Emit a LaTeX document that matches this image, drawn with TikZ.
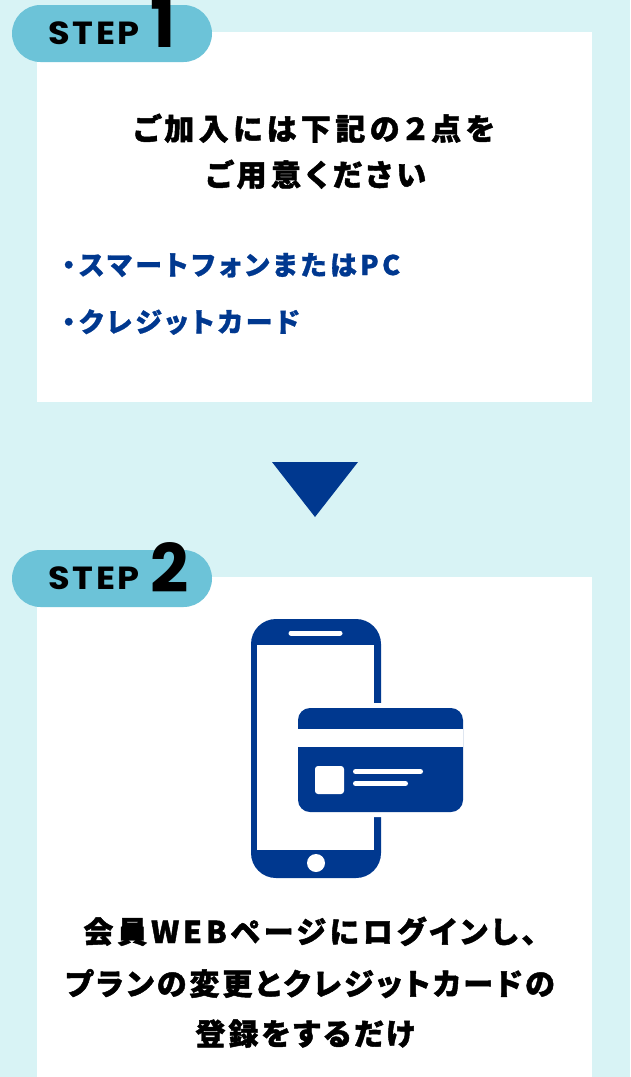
\documentclass[tikz,border=0pt]{standalone}
\usepackage{fontspec}
\usepackage{graphicx}
\newfontfamily\jpt{Noto Sans CJK JP}[RawFeature=+palt, LetterSpace=15, FakeBold=1.5]
\newfontfamily\jpb{Noto Sans CJK JP}[RawFeature=+palt, LetterSpace=10, FakeBold=1.5]
\newfontfamily\jpw{Noto Sans CJK JP}[RawFeature=+palt, LetterSpace=13, FakeBold=1.5]
\newfontfamily\jpi{Noto Sans CJK JP}[RawFeature=+palt, LetterSpace=13, FakeBold=1]
\newfontfamily\stepfont{Poppins}[LetterSpace=8]
\newfontfamily\numfont{Poppins}
\usetikzlibrary{shapes.misc}
\definecolor{bgc}{HTML}{D8F3F5}
\definecolor{badgec}{HTML}{6CC3D8}
\definecolor{navy}{HTML}{00388F}
\begin{document}
\begin{tikzpicture}[x=1pt,y=-1pt,
  panel/.style={rectangle, fill=white, inner sep=0pt, outer sep=0pt},
  badge/.style={rounded rectangle, fill=badgec, inner sep=0pt, outer sep=0pt, minimum width=200pt, minimum height=57pt},
  txt/.style={inner sep=0pt, outer sep=0pt, anchor=base},
  steplbl/.style={inner sep=0pt, outer sep=0pt, anchor=base west, font=\stepfont\bfseries\fontsize{32}{32}\selectfont},
  steplnum/.style={inner sep=0pt, outer sep=0pt, anchor=base west, font=\numfont\bfseries\fontsize{67}{67}\selectfont},
  headtxt/.style={txt, font=\jpt\bfseries\fontsize{30}{30}\selectfont, text=black},
  bodytxt/.style={txt, font=\jpb\bfseries\fontsize{30}{30}\selectfont, text=black},
  bodywide/.style={txt, font=\jpw\bfseries\fontsize{30}{30}\selectfont, text=black},
  itemtxt/.style={txt, anchor=base west, font=\jpi\bfseries\fontsize{27}{27}\selectfont, text=navy},
  iconblue/.style={fill=navy},
  iconwhite/.style={fill=white}
]
\useasboundingbox (0,0) rectangle (630,1077);
\fill[bgc] (0,0) rectangle (630,1077);

% panels
\node[panel, minimum width=555pt, minimum height=370pt] (box1) at (314.5,217) {};
\node[panel, minimum width=555pt, minimum height=500pt] (box2) at (314.5,827) {};

% badges
\node[badge] (badge1) at (112,33.5) {};
\node[badge] (badge2) at (112,578.5) {};
\node[steplbl] (step1) at (48,44) {\scalebox{1.1}[1]{STEP}};
\node[steplnum] (num1) at (150,47) {1};
\node[steplbl] (step2) at (48,589) {\scalebox{1.1}[1]{STEP}};
\node[steplnum] (num2) at (150,592) {2};

% step 1 text
\node[headtxt] (h1a) at (314,140) {ご加入には下記の２点を};
\node[headtxt] (h1b) at (316,186) {ご用意ください};
\node[itemtxt] (i1) at (62,275) {・スマートフォンまたはPC};
\node[itemtxt] (i2) at (62,332) {・クレジットカード};

% arrow
\fill[navy] (272,462) -- (358,462) -- (315,517) -- cycle;

% phone icon
\fill[iconblue, rounded corners=25pt] (251,619) rectangle (381,878);
\fill[iconwhite] (257,645) rectangle (374,850);
\draw[white, line width=5pt, line cap=round] (291,633) -- (340,633);
\fill[iconwhite] (316,863) circle[radius=9pt];
% card
\fill[iconwhite, rounded corners=16pt] (293,703) rectangle (468,817);
\fill[iconblue, rounded corners=12pt] (298,708) rectangle (463,812);
\fill[iconwhite] (298,729) rectangle (463,747);
\fill[iconwhite, rounded corners=3pt] (315,766) rectangle (344,794);
\draw[white, line width=5pt, line cap=round] (355.5,771.5) -- (420.5,771.5);
\draw[white, line width=5pt, line cap=round] (355.5,783.5) -- (405.5,783.5);

% step 2 text
\node[bodywide] (h2a) at (310,943) {会員WEBページにログインし、};
\node[bodytxt] (h2b) at (310,995) {プランの変更とクレジットカードの};
\node[bodytxt] (h2c) at (305,1045) {登録をするだけ};
\end{tikzpicture}
\end{document}
